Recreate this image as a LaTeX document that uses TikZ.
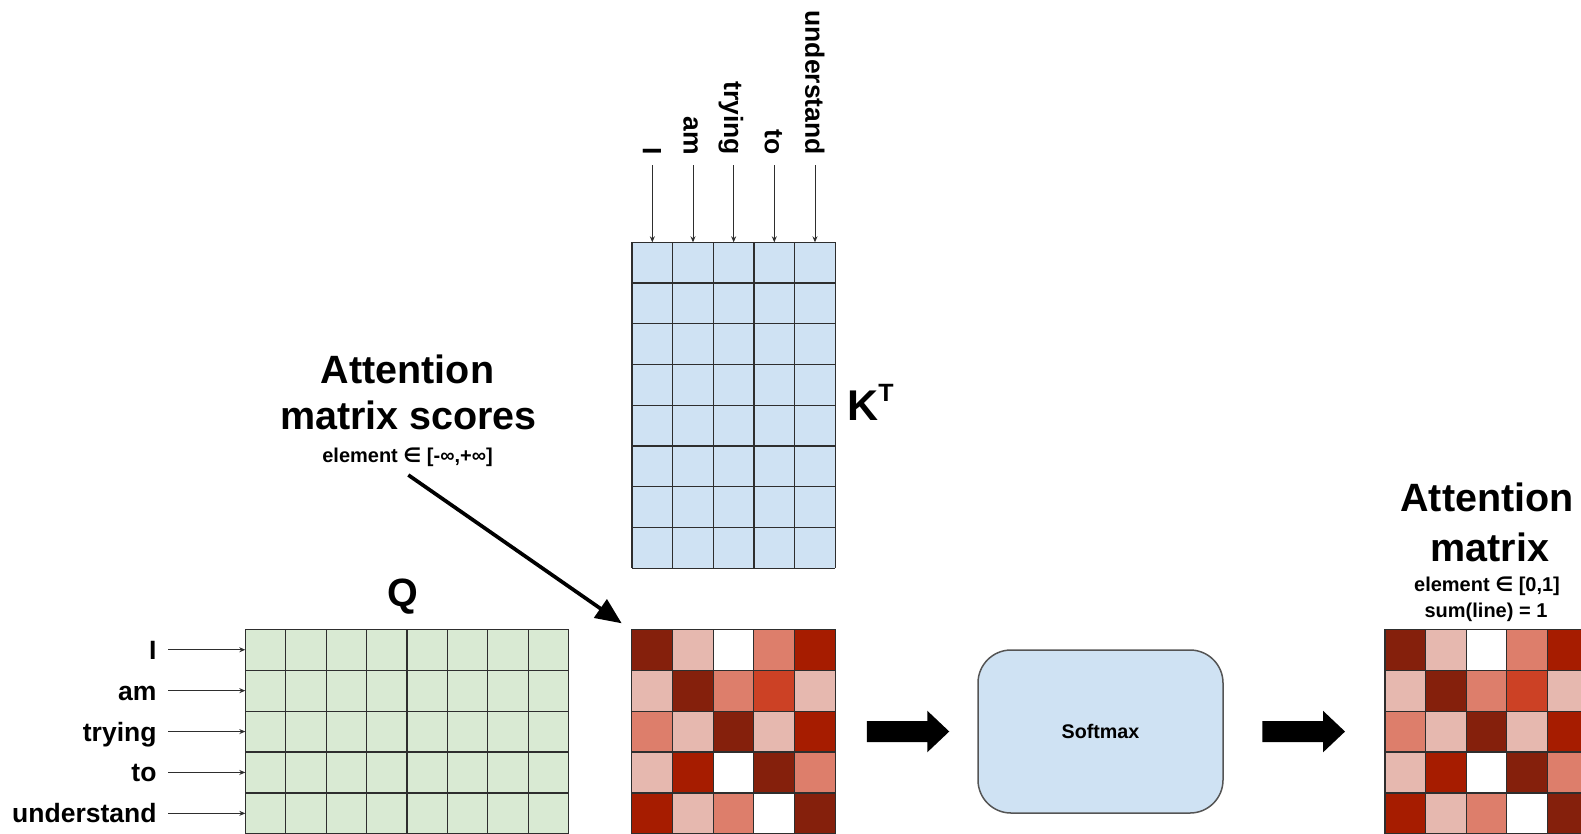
\documentclass[tikz,border=0pt]{standalone}
\usepackage{fontspec}
\setmainfont{Liberation Sans}
\newfontfamily\symfont{DejaVu Sans}
\usetikzlibrary{arrows.meta,calc}
\definecolor{kblue}{HTML}{CFE2F3}
\definecolor{qgreen}{HTML}{D9EAD3}
\definecolor{dk}{HTML}{85200C}
\definecolor{rd}{HTML}{A61C00}
\definecolor{or}{HTML}{CC4125}
\definecolor{md}{HTML}{DD7E6B}
\definecolor{lt}{HTML}{E6B8AF}
\definecolor{wh}{HTML}{FFFFFF}
\definecolor{gline}{HTML}{2E2E2E}
\definecolor{softborder}{HTML}{555555}
\tikzset{
  gridline/.style={draw=gline, line width=1.2pt},
  tarrow/.style={draw=gline, line width=0.9pt, -{Stealth[length=6pt, width=5pt]}},
  wordlbl/.style={font=\bfseries\fontsize{26.5}{28}\selectfont, inner sep=0pt, text height=19pt, text depth=0pt},
  bigtitle/.style={font=\bfseries\fontsize{39.5}{40}\selectfont, inner sep=0pt},
  smalltitle/.style={font=\bfseries\fontsize{20}{22}\selectfont, inner sep=0pt},
  diag/.style={draw=black, line width=3.7pt, -{Triangle[length=26pt, width=22pt]}},
  gridbox/.style={inner sep=0pt, outer sep=0pt, minimum width=#1},
}
\begin{document}
\begin{tikzpicture}[x=1pt,y=-1pt]
\fill[white] (0,0) rectangle (1581,833);
\useasboundingbox (0,0) rectangle (1581,833);

% ---------- Q grid ----------
\def\qx{245.3}\def\qy{629.3}\def\qw{40.4}\def\rh{40.9}
\fill[qgreen] (\qx,\qy) rectangle ++({8*\qw},{5*\rh});
\foreach \i in {0,...,8} \draw[gridline] ({\qx+\i*\qw},\qy) -- ++(0,{5*\rh});
\foreach \j in {0,...,5} \draw[gridline] (\qx,{\qy+\j*\rh}) -- ++({8*\qw},0);
\foreach \w [count=\n from 0] in {I,am,trying,to,understand}{
  \coordinate (qr\n) at (\qx,{\qy+(\n+0.5)*\rh});
  \node[wordlbl, anchor=east] (ql\n) at (156.7,{\qy+(\n+0.5)*\rh}) {\w};
  \draw[tarrow, shorten <=11.6pt] (ql\n.east) -- (qr\n);
}
\node[bigtitle, anchor=base] (qtitle) at (402.5,606.7) {Q};

% ---------- K^T grid ----------
\def\kx{632}\def\ky{242.3}\def\kw{40.66}\def\kh{40.75}
\fill[kblue] (\kx,\ky) rectangle ++({5*\kw},{8*\kh});
\foreach \i in {0,...,5} \draw[gridline] ({\kx+\i*\kw},\ky) -- ++(0,{8*\kh});
\foreach \j in {0,...,8} \draw[gridline] (\kx,{\ky+\j*\kh}) -- ++({5*\kw},0);
\foreach \w [count=\n from 0] in {I,am,trying,to,understand}{
  \coordinate (kc\n) at ({\kx+(\n+0.5)*\kw},\ky);
  \node[wordlbl, rotate=-90, anchor=east] (kl\n) at ({\kx+(\n+0.5)*\kw},155) {\w};
  \draw[tarrow, shorten <=10pt] (kl\n.east) -- (kc\n);
}
\node[font=\bfseries\fontsize{43}{43}\selectfont, inner sep=0pt, anchor=base west] (ktitle) at (847,420)
  {K\raisebox{19pt}{\fontsize{25}{25}\selectfont T}};

% ---------- Scores matrix ----------
\def\sx{631.7}\def\sy{629.3}\def\cw{40.7}
\node[gridbox={5*\cw pt}, minimum height={5*\rh pt}, anchor=north west] (S) at (\sx,\sy) {};
\foreach \c [count=\n from 0] in {dk,lt,wh,md,rd, lt,dk,md,or,lt, md,lt,dk,lt,rd, lt,rd,wh,dk,md, rd,lt,md,wh,dk}{
  \pgfmathtruncatemacro\cc{mod(\n,5)}
  \pgfmathtruncatemacro\rr{int(\n/5)}
  \fill[\c] ({\sx+\cc*\cw},{\sy+\rr*\rh}) rectangle ++(\cw,\rh);
}
\foreach \i in {0,...,5} \draw[gridline] ({\sx+\i*\cw},\sy) -- ++(0,{5*\rh});
\foreach \j in {0,...,5} \draw[gridline] (\sx,{\sy+\j*\rh}) -- ++({5*\cw},0);

% ---------- Attention matrix ----------
\def\ax{1385}\def\aw{40.6}
\node[gridbox={5*\aw pt}, minimum height={5*\rh pt}, anchor=north west] (A) at (\ax,\sy) {};
\foreach \c [count=\n from 0] in {dk,lt,wh,md,rd, lt,dk,md,or,lt, md,lt,dk,lt,rd, lt,rd,wh,dk,md, rd,lt,md,wh,dk}{
  \pgfmathtruncatemacro\cc{mod(\n,5)}
  \pgfmathtruncatemacro\rr{int(\n/5)}
  \fill[\c] ({\ax+\cc*\aw},{\sy+\rr*\rh}) rectangle ++(\aw,\rh);
}
\foreach \i in {0,...,5} \draw[gridline] ({\ax+\i*\aw},\sy) -- ++(0,{5*\rh});
\foreach \j in {0,...,5} \draw[gridline] (\ax,{\sy+\j*\rh}) -- ++({5*\aw},0);

% ---------- Softmax ----------
\node[draw=softborder, line width=1.5pt, fill=kblue, rounded corners=33pt,
      minimum width=245pt, minimum height=163pt, inner sep=0pt,
      font=\bfseries\fontsize{19.7}{20}\selectfont] (soft) at (1100.5,731.5) {Softmax};

% ---------- block arrows ----------
\fill[black] ($(S.east)+(31.7,-10.5)$) -- ($(soft.west)+(-50,-10.5)$) -- ($(soft.west)+(-50,-20.8)$)
  -- ($(soft.west)+(-28,0)$) -- ($(soft.west)+(-50,20.8)$) -- ($(soft.west)+(-50,10.5)$)
  -- ($(S.east)+(31.7,10.5)$) -- cycle;
\fill[black] ($(soft.east)+(38.7,-10.5)$) -- ($(A.west)+(-62,-10.5)$) -- ($(A.west)+(-62,-20.8)$)
  -- ($(A.west)+(-40,0)$) -- ($(A.west)+(-62,20.8)$) -- ($(A.west)+(-62,10.5)$)
  -- ($(soft.east)+(38.7,10.5)$) -- cycle;

% ---------- titles ----------
\node[bigtitle, anchor=base] (t1a) at (407.5,383.5) {Attention};
\node[bigtitle, anchor=base] (t1b) at (408.5,429) {matrix scores};
\node[smalltitle, anchor=base] (t1c) at (407.5,462) {element {\symfont ∈} [-∞,+∞]};
\draw[diag] ($(t1c.base)+(0.8,13)$) -- ($(S.north west)+(-10,-6)$);

\node[bigtitle, anchor=base] (t2a) at (1487,511.5) {Attention};
\node[bigtitle, anchor=base] (t2b) at (1490,561.5) {matrix};
\node[smalltitle, anchor=base] (t2c) at (1487,591) {element {\symfont ∈} [0,1]};
\node[smalltitle, anchor=base] (t2d) at (1486,617) {sum(line) = 1};
\end{tikzpicture}
\end{document}
